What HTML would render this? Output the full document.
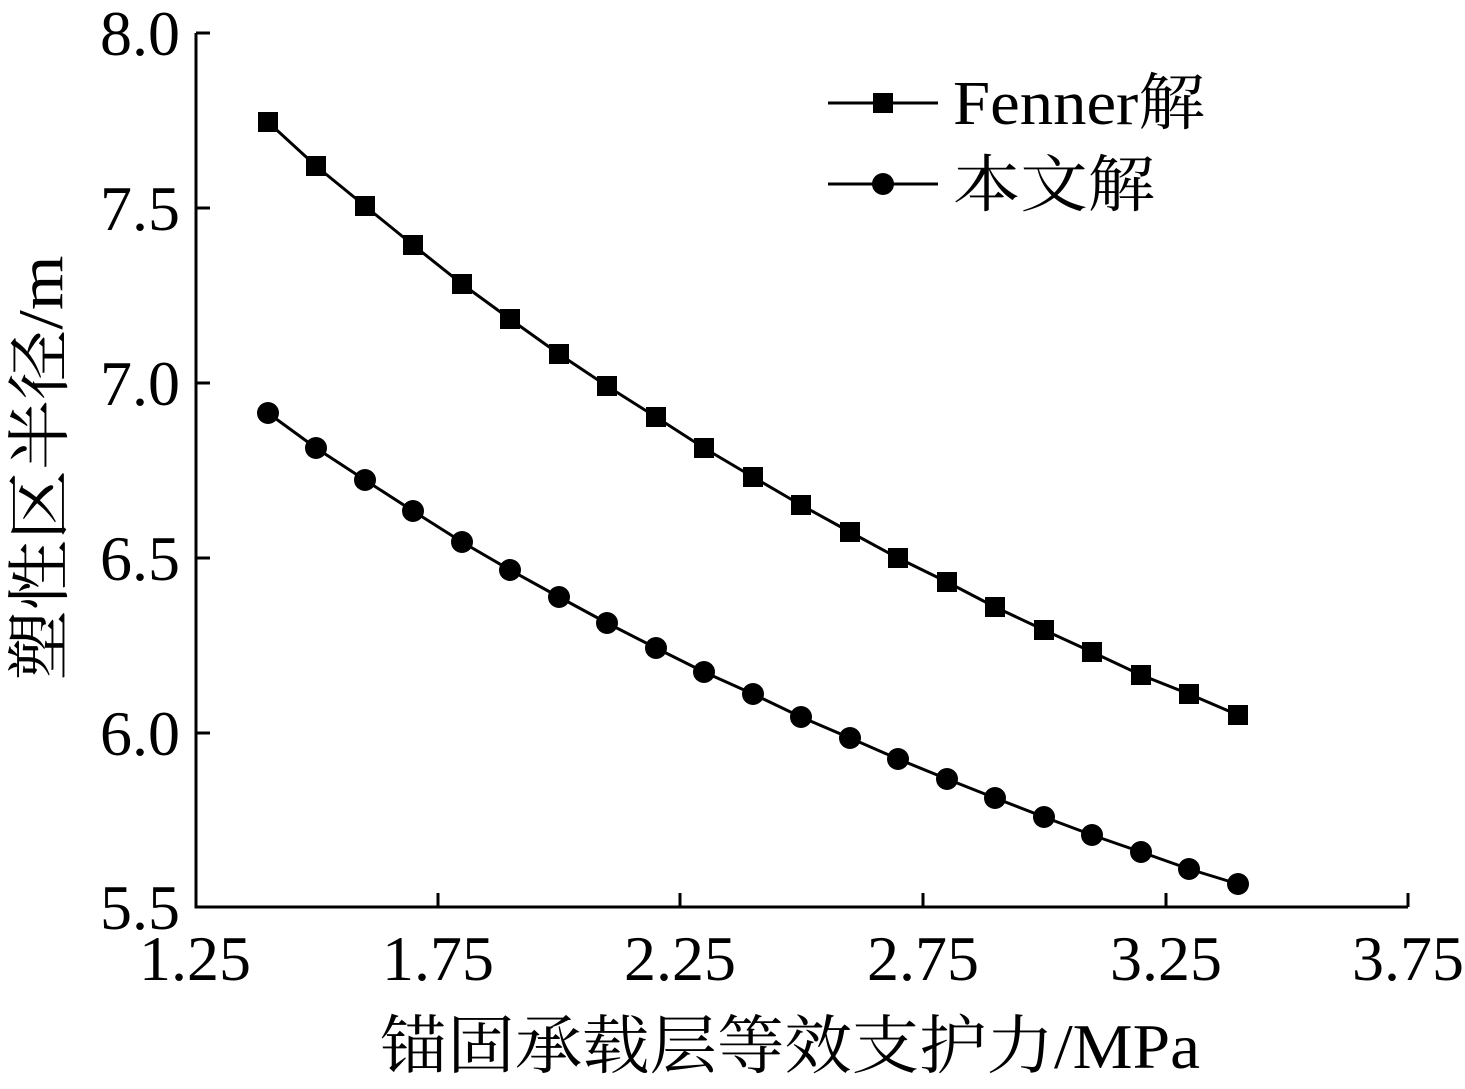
<!DOCTYPE html><html><head><style>body{margin:0;background:#fff}svg{display:block}</style></head><body>
<svg width="1465" height="1089" xmlns="http://www.w3.org/2000/svg" font-family="'Liberation Serif','Noto Serif CJK SC',serif">
<g stroke="#000" stroke-width="3" fill="none">
<path d="M196,33 V907 H1408"/>
<path d="M196,33h14M196,208h14M196,383h14M196,558h14M196,733h14"/>
<path d="M438,907v-14M680,907v-14M923,907v-14M1166,907v-14M1408,907v-14"/>
</g>
<g font-size="64" text-anchor="end">
<text x="180" y="55">8.0</text><text x="180" y="230">7.5</text><text x="180" y="405">7.0</text><text x="180" y="580">6.5</text><text x="180" y="755">6.0</text><text x="180" y="929">5.5</text>
</g>
<g font-size="64" text-anchor="middle">
<text x="195" y="980">1.25</text><text x="438" y="980">1.75</text><text x="680" y="980">2.25</text><text x="923" y="980">2.75</text><text x="1166" y="980">3.25</text><text x="1408" y="980">3.75</text>
</g>
<g font-size="64" text-anchor="middle">
<text x="790" y="1068" textLength="820" lengthAdjust="spacingAndGlyphs">锚固承载层等效支护力/MPa</text>
<text transform="translate(62,468) rotate(-90)" textLength="425" lengthAdjust="spacingAndGlyphs">塑性区半径/m</text>
</g>
<polyline fill="none" stroke="#000" stroke-width="3" points="268,122 316,166 365,206 413,245 462,284 510,319 559,354 607,386 656,417 704,448 753,477 801,505 850,532 898,558 947,582 995,607 1044,630 1092,652 1141,675 1189,694 1238,715"/>
<g fill="#000">
<rect x="258" y="112" width="20" height="20"/><rect x="306" y="156" width="20" height="20"/><rect x="355" y="196" width="20" height="20"/><rect x="403" y="235" width="20" height="20"/><rect x="452" y="274" width="20" height="20"/><rect x="500" y="309" width="20" height="20"/><rect x="549" y="344" width="20" height="20"/><rect x="597" y="376" width="20" height="20"/><rect x="646" y="407" width="20" height="20"/><rect x="694" y="438" width="20" height="20"/><rect x="743" y="467" width="20" height="20"/><rect x="791" y="495" width="20" height="20"/><rect x="840" y="522" width="20" height="20"/><rect x="888" y="548" width="20" height="20"/><rect x="937" y="572" width="20" height="20"/><rect x="985" y="597" width="20" height="20"/><rect x="1034" y="620" width="20" height="20"/><rect x="1082" y="642" width="20" height="20"/><rect x="1131" y="665" width="20" height="20"/><rect x="1179" y="684" width="20" height="20"/><rect x="1228" y="705" width="20" height="20"/>
</g>
<polyline fill="none" stroke="#000" stroke-width="3" points="268,413 316,448 365,480 413,511 462,542 510,570 559,597 607,623 656,648 704,672 753,694 801,717 850,738 898,759 947,779 995,798 1044,817 1092,835 1141,852 1189,869 1238,884"/>
<g fill="#000">
<circle cx="268" cy="413" r="11"/><circle cx="316" cy="448" r="11"/><circle cx="365" cy="480" r="11"/><circle cx="413" cy="511" r="11"/><circle cx="462" cy="542" r="11"/><circle cx="510" cy="570" r="11"/><circle cx="559" cy="597" r="11"/><circle cx="607" cy="623" r="11"/><circle cx="656" cy="648" r="11"/><circle cx="704" cy="672" r="11"/><circle cx="753" cy="694" r="11"/><circle cx="801" cy="717" r="11"/><circle cx="850" cy="738" r="11"/><circle cx="898" cy="759" r="11"/><circle cx="947" cy="779" r="11"/><circle cx="995" cy="798" r="11"/><circle cx="1044" cy="817" r="11"/><circle cx="1092" cy="835" r="11"/><circle cx="1141" cy="852" r="11"/><circle cx="1189" cy="869" r="11"/><circle cx="1238" cy="884" r="11"/>
</g>
<g stroke="#000" stroke-width="3"><path d="M828,103H938M828,184H938"/></g>
<rect x="873" y="93" width="20" height="20" fill="#000"/>
<circle cx="883" cy="184" r="11" fill="#000"/>
<g font-size="62"><text x="953" y="124" textLength="252" lengthAdjust="spacingAndGlyphs">Fenner解</text><text x="953" y="206" textLength="202" lengthAdjust="spacingAndGlyphs">本文解</text></g>
</svg></body></html>
